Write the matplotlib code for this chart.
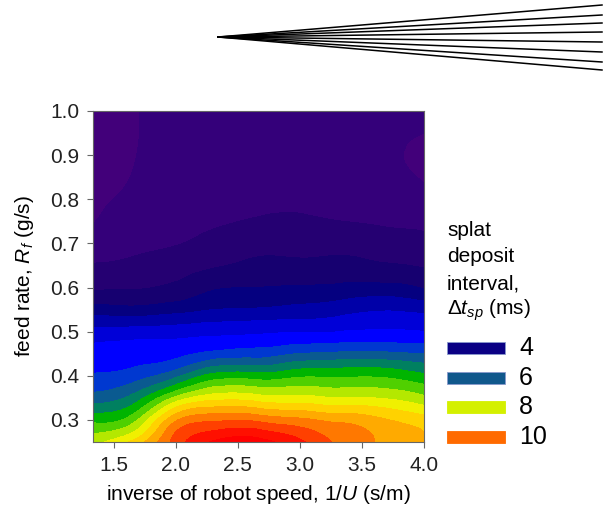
import numpy as np
import matplotlib

matplotlib.use("Agg")
import matplotlib.pyplot as plt
import matplotlib.tri as mtri
from matplotlib.lines import Line2D
from matplotlib.patches import Rectangle

plt.rcParams["font.family"] = ["Liberation Sans", "DejaVu Sans"]
plt.rcParams["mathtext.fontset"] = "custom"
plt.rcParams["mathtext.rm"] = "Liberation Sans"
plt.rcParams["mathtext.it"] = "Liberation Sans:italic"

# inverse robot speed 1/U (s/m) and feed rate R_f (g/s)
INV_SPEED = [1.333, 1.667, 2.0, 2.333, 2.667, 3.0, 3.333, 3.667, 4.0]
FEED_RATE = [0.25, 0.30, 0.35, 0.40, 0.45, 0.50, 0.55, 0.60,
             0.65, 0.70, 0.75, 0.80, 0.85, 0.90, 0.95, 1.00]

# splat deposit interval (ms), one row per feed rate
DT_SP = [
    [7.85, 8.65, 10.2, 11.1, 11.2, 10.6, 9.9, 9.4, 9.1],
    [6.85, 7.35, 9.4, 9.9, 9.85, 9.6, 9.35, 9.05, 8.7],
    [5.7, 6.2, 7.6, 8.3, 8.2, 8.15, 8.0, 7.95, 7.6],
    [5.05, 5.25, 5.85, 6.7, 6.7, 6.9, 6.9, 6.9, 6.6],
    [4.67, 4.75, 4.85, 5.15, 5.25, 5.5, 5.6, 5.6, 5.5],
    [4.17, 4.2, 4.25, 4.35, 4.4, 4.45, 4.5, 4.55, 4.5],
    [3.2, 3.15, 3.3, 3.5, 3.55, 3.65, 3.8, 3.95, 3.85],
    [2.4, 2.45, 2.6, 2.95, 3.0, 3.05, 3.1, 3.15, 2.93],
    [2.03, 2.1, 2.25, 2.45, 2.62, 2.6, 2.65, 2.55, 2.45],
    [1.73, 1.9, 1.97, 2.17, 2.32, 2.33, 2.3, 2.2, 2.12],
    [1.47, 1.8, 1.8, 1.93, 2.05, 2.07, 2.0, 1.95, 1.9],
    [1.35, 1.62, 1.7, 1.8, 1.85, 1.9, 1.85, 1.8, 1.65],
    [1.3, 1.52, 1.65, 1.7, 1.75, 1.78, 1.75, 1.68, 1.45],
    [1.3, 1.49, 1.6, 1.65, 1.7, 1.72, 1.7, 1.6, 1.35],
    [1.3, 1.48, 1.6, 1.65, 1.7, 1.72, 1.7, 1.62, 1.5],
    [1.3, 1.48, 1.6, 1.65, 1.7, 1.72, 1.7, 1.65, 1.6],
]

LEVELS = np.arange(1.0, 11.51, 0.5)
BAND_COLORS = [
    "#42007a", "#34007a", "#250072", "#160070", "#050080", "#0000a8",
    "#0000d8", "#0000ff", "#0038d0", "#0a5a90", "#008060", "#00b400",
    "#50d000", "#b4e800", "#f0f000", "#ffd200", "#ffaa00", "#ff7800",
    "#ff4000", "#ff1000", "#ff0000",
]

LEGEND_VALUES = [4, 6, 8, 10]
LEGEND_COLORS = ["#0a0084", "#10588c", "#d4f000", "#ff6a00"]
LEGEND_TITLE = ["splat", "deposit", "interval,", r"$\Delta t_{sp}$ (ms)"]

X_TICKS = [1.5, 2.0, 2.5, 3.0, 3.5, 4.0]
Y_TICKS = [0.3, 0.4, 0.5, 0.6, 0.7, 0.8, 0.9, 1.0]

W, H = 611, 518

# decorative fan of strokes above the plot (pixel positions)
FAN_APEX = (218, 37)
FAN_END_X = 602
FAN_END_Y = [5, 15, 23, 32, 42, 52, 62, 70]


def fx(px):
    return px / W


def fy(py):
    return 1 - py / H


def main() -> None:
    fig = plt.figure(figsize=(W / 100, H / 100), dpi=100)
    ax = fig.add_axes([fx(93), fy(442), fx(424) - fx(93), fy(111) - fy(442)])

    xx, yy = np.meshgrid(INV_SPEED, FEED_RATE)
    z = np.asarray(DT_SP, dtype=float)
    tri = mtri.Triangulation(xx.ravel(), yy.ravel())
    refiner = mtri.UniformTriRefiner(tri)
    tri_fine, z_fine = refiner.refine_field(z.ravel(), subdiv=4)
    cs = ax.tricontourf(tri_fine, z_fine, levels=LEVELS, colors=BAND_COLORS,
                        extend="both")
    # fill the hairline gaps between neighbouring bands
    cs.set_edgecolor("face")
    cs.set_linewidth(0.4)

    ax.set_xlim(INV_SPEED[0], INV_SPEED[-1])
    ax.set_ylim(FEED_RATE[0], FEED_RATE[-1])
    ax.set_xticks(X_TICKS)
    ax.set_yticks(Y_TICKS)
    ax.set_xticklabels([f"{v:.1f}" for v in X_TICKS])
    ax.set_yticklabels([f"{v:.1f}" for v in Y_TICKS])
    ax.tick_params(direction="out", length=4, width=0.8, color="#666666",
                   labelsize=15, labelcolor="#222222", pad=6)
    for sp in ax.spines.values():
        sp.set_color("#666666")
        sp.set_linewidth(0.8)
        sp.set_zorder(5)

    ax.set_xlabel(r"inverse of robot speed, 1/$U$ (s/m)", fontsize=15, labelpad=6)
    ax.set_ylabel(r"feed rate, $R_f$ (g/s)", fontsize=15, labelpad=10)

    # legend block on the right
    title_base = [236, 262, 290, 315]
    for line, py in zip(LEGEND_TITLE, title_base):
        fig.text(fx(447), fy(py), line, fontsize=15, va="baseline", ha="left")
    for i, (val, col) in enumerate(zip(LEGEND_VALUES, LEGEND_COLORS)):
        cy = 348 + i * 29.7
        fig.add_artist(Rectangle((fx(447), fy(cy + 6)), fx(505) - fx(447), 12 / H,
                                 transform=fig.transFigure, facecolor=col,
                                 edgecolor="#8899cc" if i < 2 else col, linewidth=0.6))
        fig.text(fx(519), fy(cy), str(val), fontsize=18, va="center", ha="left")

    for ey in FAN_END_Y:
        fig.add_artist(Line2D([fx(FAN_APEX[0]), fx(FAN_END_X)], [fy(FAN_APEX[1]), fy(ey)],
                              transform=fig.transFigure, color="black", linewidth=1.1))

    fig.savefig("out.png", dpi=100)


if __name__ == "__main__":
    main()
